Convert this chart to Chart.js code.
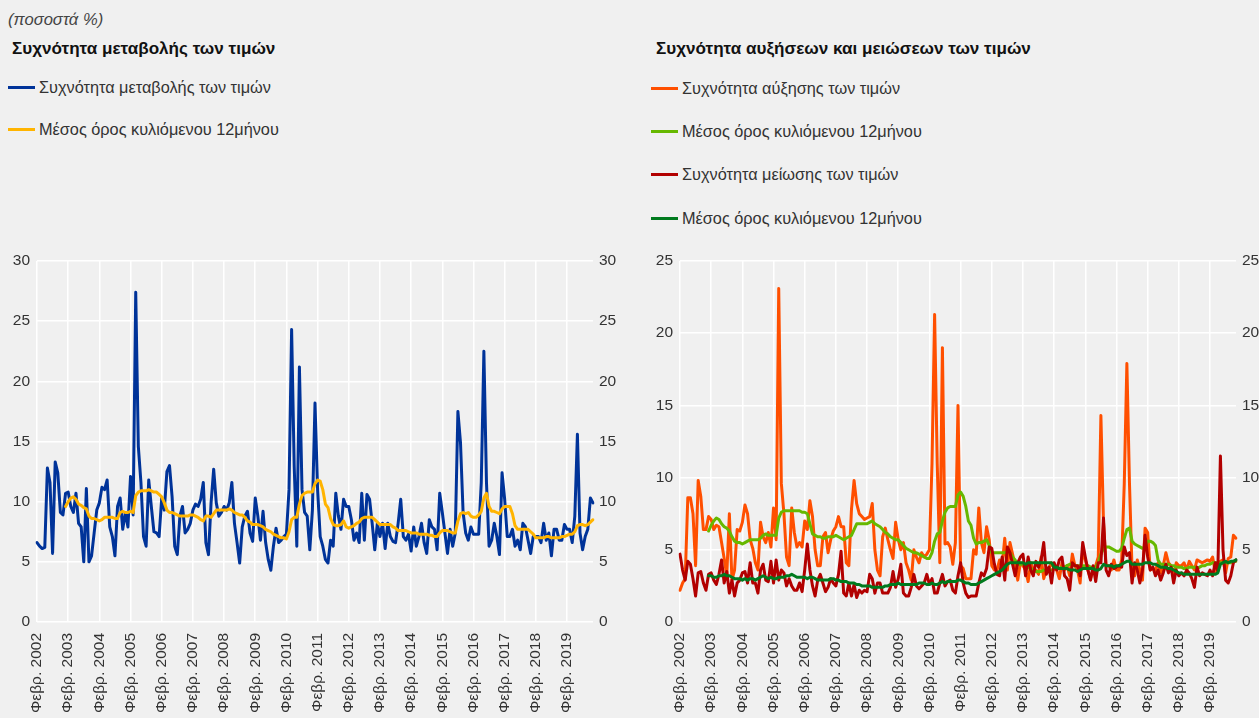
<!DOCTYPE html>
<html>
<head>
<meta charset="utf-8">
<script src="https://cdn.jsdelivr.net/npm/chart.js@4.4.1/dist/chart.umd.min.js"></script>
<style>
html,body{margin:0;padding:0;background:#f0f0f0;overflow:hidden;width:1259px;height:718px;}
#wrap{position:relative;width:1259px;height:718px;overflow:hidden;font-family:"Liberation Sans",Arial,Helvetica,sans-serif;}
.t{position:absolute;white-space:nowrap;line-height:20px;}
.unit{left:8px;top:10px;font-style:italic;color:#444;font-size:16.6px;}
.title{font-weight:bold;color:#111;top:39px;font-size:17.1px;}
.leg{position:absolute;white-space:nowrap;font-size:16.3px;line-height:20px;color:#333;}
.leg i{position:absolute;left:-31px;top:8.5px;width:27px;height:3px;}
canvas{position:absolute;top:240px;}
</style>
</head>
<body>
<div id="wrap">
  <div class="t unit">(ποσοστά %)</div>
  <div class="t title" style="left:12px;">Συχνότητα μεταβολής των τιμών</div>
  <div class="t title" style="left:656px;">Συχνότητα αυξήσεων και μειώσεων των τιμών</div>
  <div id="legL"></div>
  <div id="legR"></div>
  <canvas id="c1" width="630" height="478" style="left:0px;"></canvas>
  <canvas id="c2" width="630" height="478" style="left:643px;"></canvas>
</div>
<script>
// ---------- DATA ----------
const monthNames = ['Ιαν.','Φεβρ.','Μαρ.','Απρ.','Μαΐου','Ιουν.','Ιουλ.','Αυγ.','Σεπτ.','Οκτ.','Νοε.','Δεκ.'];
const tickLabels = ['Φεβρ. 2002','Φεβρ. 2003','Φεβρ. 2004','Φεβρ. 2005','Φεβρ. 2006','Φεβρ. 2007','Φεβρ. 2008','Φεβρ. 2009','Φεβρ. 2010','Φεβρ. 2011','Φεβρ. 2012','Φεβρ. 2013','Φεβρ. 2014','Φεβρ. 2015','Φεβρ. 2016','Φεβρ. 2017','Φεβρ. 2018','Φεβρ. 2019'];
const categories = [];
for (let y = 2002; y <= 2019; y++) {
  for (let m = (y === 2002 ? 1 : 0); m < 12; m++) categories.push(monthNames[m] + ' ' + y);
}

const freqChange = [
 6.6,6.3,6.1,6.2,12.8,11.6,5.7,13.3,12.4,9.1,8.9,10.7,
 10.8,9.6,9.1,10.7,8.2,7.9,5.0,11.1,5.0,5.5,7.4,9.3,
 9.9,11.2,11.0,11.8,7.9,7.1,5.5,9.6,10.3,7.7,9.1,7.9,
 12.1,8.9,27.4,14.6,11.6,7.1,6.3,11.8,9.6,7.5,7.4,7.1,
 10.3,9.3,12.5,13.0,10.4,6.3,5.6,8.8,9.6,7.4,7.7,8.2,
 9.3,9.8,9.6,10.2,11.6,6.6,5.6,9.9,12.7,9.9,8.8,9.1,
 9.6,9.3,9.9,11.6,8.2,6.6,4.9,7.9,8.8,9.2,7.4,6.7,
 10.3,8.8,6.8,9.2,6.6,5.2,4.3,6.3,7.8,6.6,6.8,7.1,
 7.3,11.0,24.3,12.9,6.3,21.2,11.0,9.1,8.8,6.0,9.3,18.2,
 11.0,7.1,6.3,5.2,4.9,6.8,6.3,10.7,8.8,7.7,10.2,9.6,
 9.6,8.5,6.8,7.4,6.6,10.7,6.8,10.6,10.2,8.2,6.0,8.2,
 7.1,8.2,6.1,8.2,7.1,6.7,6.6,8.2,10.2,7.1,6.8,7.3,
 5.9,7.9,6.3,7.1,8.2,6.6,5.7,8.5,7.9,7.7,6.0,10.7,
 9.1,7.4,5.7,7.7,6.3,7.4,17.5,14.9,9.1,7.4,6.8,7.9,
 7.3,7.3,7.3,11.6,22.5,11.6,6.3,6.8,8.2,7.1,5.6,12.4,
 10.2,7.1,7.1,7.7,6.3,6.8,6.0,8.2,7.9,6.8,5.7,7.1,
 7.1,7.1,6.6,8.2,6.8,7.4,5.5,7.7,7.7,6.8,6.8,8.1,
 7.7,7.7,6.6,8.8,15.6,7.4,6.0,7.1,7.7,10.3,9.9
];
const freqChangeMA = [
 null,null,null,null,null,null,null,null,null,null,null,9.6,
 10.0,10.3,10.4,10.2,9.8,9.7,9.5,9.4,8.8,8.6,8.6,8.5,
 8.4,8.5,8.7,8.7,8.7,8.7,8.6,8.6,9.1,9.2,9.1,9.1,
 9.2,9.1,10.5,10.8,10.9,10.9,10.9,11.0,10.9,10.8,10.8,10.6,
 10.4,9.9,9.3,9.1,9.1,9.0,8.9,8.8,8.8,8.8,8.8,8.9,
 8.9,8.8,8.7,8.5,8.4,8.8,8.8,8.7,9.0,9.3,9.3,9.3,
 9.3,9.3,9.4,9.3,9.1,9.0,8.9,8.9,8.7,8.4,8.3,8.1,
 8.1,8.1,8.0,7.9,7.7,7.6,7.5,7.3,7.2,7.1,7.0,7.0,
 6.9,7.5,8.5,8.7,8.7,9.8,10.5,10.7,10.8,10.8,10.8,11.5,
 11.8,11.7,11.0,9.8,9.5,8.6,8.1,8.0,8.0,8.1,8.4,7.9,
 7.8,7.9,8.0,8.2,8.3,8.6,8.7,8.7,8.7,8.7,8.5,8.3,
 8.1,8.1,8.1,8.1,8.1,7.9,7.8,7.6,7.6,7.6,7.6,7.5,
 7.4,7.4,7.4,7.3,7.3,7.3,7.3,7.2,7.2,7.1,7.1,7.4,
 7.6,7.6,7.6,7.5,7.4,7.4,8.4,9.0,9.1,9.0,9.1,8.8,
 8.7,8.7,8.9,9.2,10.3,10.7,9.6,9.2,9.2,9.1,9.0,9.4,
 9.6,9.6,9.6,9.0,8.0,7.7,7.7,7.7,7.7,7.7,7.5,7.3,
 7.0,7.0,7.0,7.0,7.1,7.1,7.0,7.0,7.0,7.0,7.1,7.1,
 7.2,7.3,7.3,7.5,8.0,8.1,8.1,8.0,8.1,8.3,8.5
];
const freqIncrease = [
 2.2,2.7,3.0,8.6,8.6,7.5,3.9,9.8,8.7,6.4,6.4,7.3,
 7.1,6.4,6.7,6.6,5.5,4.4,3.2,7.5,2.9,3.6,6.4,6.3,
 6.9,8.1,7.5,5.7,5.1,4.1,3.6,6.9,5.9,5.5,6.2,5.2,
 7.9,5.7,23.1,9.6,7.5,4.5,3.9,7.9,6.2,5.2,5.5,5.2,
 7.0,6.4,8.4,7.3,5.0,3.9,3.9,5.9,6.2,4.8,5.7,6.3,
 6.6,7.3,6.6,6.6,4.1,3.9,7.8,9.8,8.2,7.5,7.3,7.1,
 7.2,7.3,8.2,5.0,3.6,3.2,5.9,6.5,5.7,5.0,4.4,6.9,
 5.7,5.0,5.5,4.1,3.6,2.9,5.0,4.5,4.1,4.8,4.5,4.7,
 5.0,11.0,21.3,11.0,4.1,19.0,5.4,5.5,5.2,4.0,5.5,15.0,
 3.9,3.7,3.0,3.0,3.0,5.0,4.7,7.9,5.5,4.8,6.6,5.7,
 3.9,3.6,3.6,4.3,3.9,5.8,3.6,5.5,4.7,3.9,2.9,4.1,
 3.9,3.6,2.8,4.1,3.6,3.6,3.3,4.5,3.0,3.6,3.7,4.1,
 3.7,3.6,3.0,4.1,3.6,3.9,3.2,4.7,3.9,3.6,2.7,5.0,
 4.3,3.6,3.0,3.6,3.9,4.5,14.3,6.9,3.9,3.9,3.6,4.3,
 3.6,3.6,4.3,9.6,17.9,9.6,3.6,3.2,4.3,3.6,2.9,6.5,
 6.2,3.6,3.7,3.6,4.1,3.4,3.9,4.8,4.1,3.9,3.2,4.1,
 3.9,3.9,4.1,3.6,4.2,3.9,3.6,4.3,4.2,4.1,4.2,4.3,
 4.2,4.5,3.5,4.1,4.2,4.3,3.4,4.4,4.5,6.0,5.8
];
const freqIncreaseMA = [
 null,null,null,null,null,null,null,null,null,null,null,6.3,
 6.7,7.0,7.2,7.1,6.8,6.6,6.5,6.3,5.9,5.6,5.5,5.5,
 5.4,5.5,5.6,5.7,5.7,5.7,5.7,5.8,6.0,6.1,6.0,6.0,
 6.0,6.0,7.2,7.6,7.7,7.7,7.7,7.7,7.7,7.7,7.7,7.6,
 7.6,7.5,6.8,6.1,6.0,5.9,5.9,5.8,5.8,5.9,5.9,5.9,
 6.0,5.9,5.8,5.7,5.8,5.9,6.0,6.4,6.8,6.8,6.8,6.8,
 6.8,6.9,7.0,6.8,6.7,6.6,6.4,6.2,6.1,5.9,5.8,5.7,
 5.7,5.5,5.3,5.1,5.0,4.9,4.8,4.8,4.7,4.6,4.5,4.4,
 4.4,4.8,5.6,6.1,6.2,7.0,7.6,7.9,8.0,8.0,8.0,8.8,
 9.0,8.7,8.0,7.0,6.7,5.8,5.4,5.5,5.5,5.6,5.7,5.3,
 4.8,4.8,4.8,4.8,4.8,4.8,4.9,4.8,4.5,4.3,4.0,4.0,
 4.0,3.9,3.8,3.7,3.6,3.5,3.5,3.5,3.6,3.6,3.6,3.6,
 3.7,3.7,3.7,3.8,3.8,3.9,4.0,4.0,3.9,3.9,3.9,3.9,
 3.9,3.9,3.8,3.8,3.8,4.1,4.7,5.1,5.2,5.2,5.1,5.0,
 4.9,4.9,5.1,5.8,6.4,6.5,5.6,5.4,5.3,5.2,5.1,5.2,
 5.6,5.6,5.5,5.3,4.3,4.0,4.0,4.0,4.0,3.9,3.9,3.8,
 3.8,3.8,3.7,3.7,3.8,3.8,3.8,3.7,3.8,3.9,3.9,4.0,
 4.0,4.1,4.1,4.1,4.1,4.1,4.1,4.1,4.1,4.2,4.2
];
const freqDecrease = [
 4.7,3.6,2.9,4.2,4.0,3.0,1.8,3.4,3.5,2.7,2.2,3.3,
 3.4,2.9,2.6,3.3,4.3,2.7,3.5,2.0,2.9,1.8,2.7,2.9,
 3.4,3.5,2.7,4.1,2.7,2.7,2.0,3.6,4.0,2.9,2.8,4.2,
 2.7,4.3,2.9,3.6,3.4,2.5,3.0,2.5,2.2,2.2,2.7,2.1,
 3.6,5.4,3.6,2.5,1.8,2.9,3.3,2.7,2.1,2.4,3.0,2.7,
 2.5,3.3,4.9,2.0,1.8,2.7,1.8,2.6,1.7,2.2,2.0,2.2,
 2.1,3.3,3.0,2.0,2.7,2.7,2.0,2.0,2.0,2.4,3.5,2.4,
 3.0,4.0,2.0,1.8,1.8,2.4,3.3,2.5,2.3,2.5,2.7,3.3,
 2.6,3.0,2.0,2.0,2.7,3.3,2.5,2.8,2.9,2.2,2.0,3.2,
 4.1,2.7,2.0,1.7,1.8,1.8,1.8,2.7,3.4,3.2,3.7,5.2,
 5.1,4.0,3.3,3.2,4.5,2.9,5.2,4.8,4.0,3.2,4.1,4.5,
 4.7,3.2,4.5,3.6,3.2,4.2,3.8,4.3,5.5,3.3,3.8,2.7,
 4.1,3.6,4.3,4.5,3.2,3.0,2.2,4.1,3.9,3.9,3.2,5.5,
 4.5,3.6,2.9,3.9,2.8,4.1,4.1,7.2,3.6,3.2,4.0,3.7,
 3.8,3.9,3.8,5.2,4.6,4.8,2.7,4.1,3.6,2.7,3.6,6.0,
 4.5,3.6,3.8,3.2,3.6,2.9,3.4,4.0,3.4,3.8,2.7,3.6,
 3.2,3.4,3.2,3.6,3.4,3.0,2.4,3.8,3.2,3.4,3.3,3.2,
 3.6,3.2,4.1,3.5,11.5,5.0,2.9,2.7,3.2,4.1,4.3
];
const freqDecreaseMA = [
 null,null,null,null,null,null,null,null,null,null,null,3.2,
 3.2,3.1,3.1,3.2,3.2,3.3,3.2,3.2,3.1,3.0,3.0,3.0,
 2.9,3.0,2.9,3.0,3.0,2.9,3.0,3.1,3.2,3.1,3.0,3.1,
 3.0,3.0,3.1,3.1,3.1,3.2,3.2,3.3,3.2,3.1,3.1,3.1,
 3.1,3.0,3.1,3.1,3.0,2.9,2.9,2.9,2.9,2.9,3.0,3.0,
 2.9,2.9,2.8,2.8,2.8,2.7,2.7,2.7,2.6,2.6,2.5,2.5,
 2.5,2.5,2.4,2.4,2.4,2.4,2.4,2.5,2.5,2.6,2.6,2.6,
 2.7,2.6,2.6,2.6,2.6,2.6,2.6,2.6,2.7,2.7,2.7,2.6,
 2.6,2.7,2.6,2.6,2.7,2.8,2.7,2.8,2.8,2.8,2.8,2.9,
 2.9,2.8,2.7,2.7,2.6,2.6,2.6,2.7,2.8,2.9,3.0,3.1,
 3.2,3.3,3.4,3.5,3.6,3.8,4.0,4.1,4.1,4.1,4.1,4.1,
 4.1,4.0,4.1,4.1,4.1,4.1,4.1,4.1,4.1,4.1,4.1,4.1,
 3.8,3.8,3.7,3.7,3.7,3.7,3.6,3.6,3.6,3.5,3.6,3.7,
 3.7,3.7,3.7,3.7,3.6,3.6,3.7,4.0,3.9,3.9,3.9,3.8,
 3.9,3.9,4.0,4.1,4.2,4.2,4.0,4.0,4.0,4.0,4.0,4.1,
 4.1,4.1,4.0,4.0,3.9,3.8,3.8,3.8,3.7,3.7,3.6,3.5,
 3.4,3.4,3.3,3.3,3.3,3.3,3.3,3.3,3.3,3.3,3.3,3.3,
 3.3,3.3,3.3,3.4,4.0,4.1,4.2,4.1,4.2,4.2,4.3
];

const seriesLeft = [
  {label:'Συχνότητα μεταβολής των τιμών', data:freqChange, color:'#003399', order:2},
  {label:'Μέσος όρος κυλιόμενου 12μήνου', data:freqChangeMA, color:'#FFB400', order:1}
];
const seriesRight = [
  {label:'Συχνότητα αύξησης των τιμών', data:freqIncrease, color:'#FF4F00', order:4},
  {label:'Μέσος όρος κυλιόμενου 12μήνου', data:freqIncreaseMA, color:'#66B800', order:3},
  {label:'Συχνότητα μείωσης των τιμών', data:freqDecrease, color:'#B20000', order:2},
  {label:'Μέσος όρος κυλιόμενου 12μήνου', data:freqDecreaseMA, color:'#007A1E', order:1}
];

// ---------- LEGENDS (HTML) ----------
function buildLegend(el, series, left, tops) {
  series.forEach((s, k) => {
    const d = document.createElement('div');
    d.className = 'leg';
    d.style.left = left + 'px';
    d.style.top = tops[k] + 'px';
    d.innerHTML = '<i style="background:' + s.color + '"></i>' + s.label;
    el.appendChild(d);
  });
}
buildLegend(document.getElementById('legL'), seriesLeft, 39, [77, 119]);
buildLegend(document.getElementById('legR'), seriesRight, 682, [78, 121, 164, 208]);

// ---------- CHARTS ----------
const FONT = {family:'"Liberation Sans", Arial, Helvetica, sans-serif', size:15.5};
const TXT = '#333333';

function makeChart(id, series, max, step) {
  return new Chart(document.getElementById(id), {
    type: 'line',
    data: {
      labels: categories,
      datasets: series.map(s => ({
        label: s.label, data: s.data, borderColor: s.color, backgroundColor: s.color,
        borderWidth: 3, pointRadius: 0, tension: 0, fill: false, order: s.order,
        yAxisID: 'y', spanGaps: false, borderJoinStyle: 'round', borderCapStyle: 'round'
      }))
    },
    options: {
      responsive: false, animation: false, devicePixelRatio: 1,
      layout: {padding: {top: 21, left: 0, right: 0, bottom: 0}},
      plugins: {legend: {display: false}, tooltip: {enabled: false}, title: {display: false}},
      scales: {
        x: {
          type: 'category', offset: false,
          border: {display: false},
          grid: {
            color: c => (c.index % 12 === 0 ? '#ffffff' : 'rgba(0,0,0,0)'),
            lineWidth: 1.5, drawTicks: false
          },
          ticks: {
            autoSkip: false, minRotation: 90, maxRotation: 90, padding: 11,
            color: TXT, font: FONT,
            callback: (v, i) => (i % 12 === 0 ? tickLabels[i / 12] : '')
          },
          afterFit: s => { s.height = 96; }
        },
        y: {
          position: 'left', min: 0, max: max,
          border: {display: false},
          grid: {color: '#ffffff', lineWidth: 1.5, drawTicks: false},
          ticks: {stepSize: step, padding: 7, color: TXT, font: FONT},
          afterFit: s => { s.width = 37; }
        },
        y2: {
          position: 'right', min: 0, max: max, display: true,
          border: {display: false},
          grid: {display: false, drawTicks: false},
          ticks: {stepSize: step, padding: 6, color: TXT, font: FONT},
          afterFit: s => { s.width = 37; }
        }
      }
    }
  });
}
makeChart('c1', seriesLeft, 30, 5);
makeChart('c2', seriesRight, 25, 5);
</script>
</body>
</html>
